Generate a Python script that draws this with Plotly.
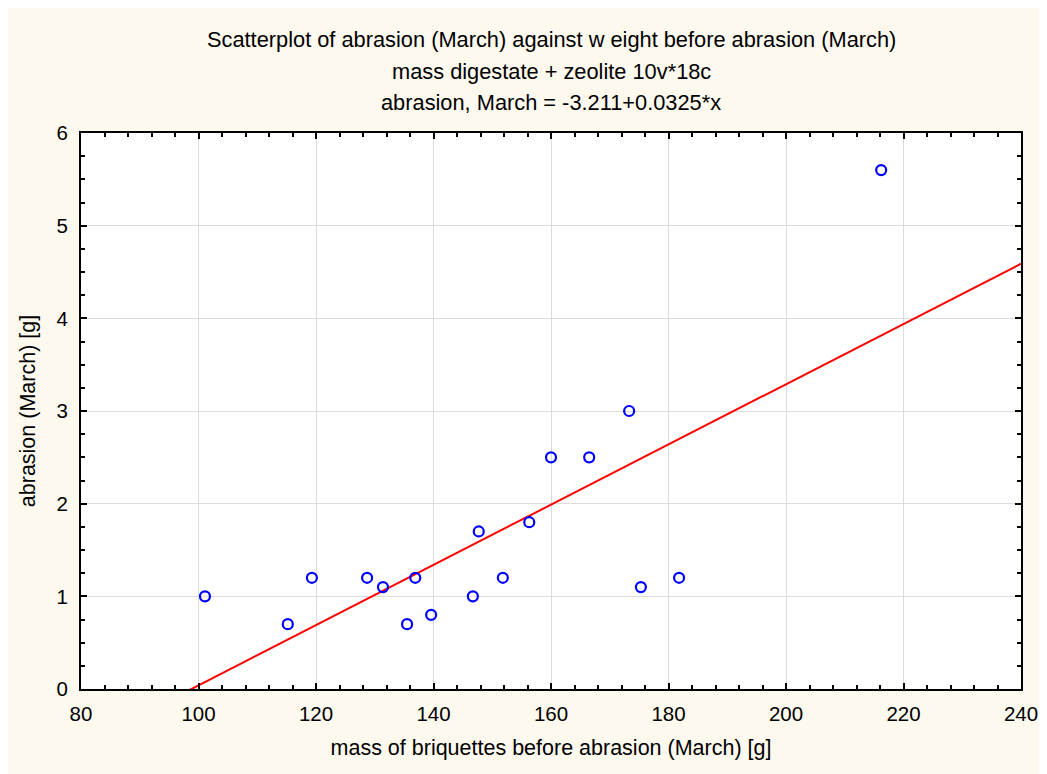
import plotly.graph_objects as go

mass = [101.1, 115.2, 119.3, 128.7, 131.4, 136.9, 135.5, 139.6, 146.7, 147.7,
        151.8, 156.3, 160.0, 166.5, 173.3, 175.3, 181.8, 216.2]
abrasion = [1.0, 0.7, 1.2, 1.2, 1.1, 1.2, 0.7, 0.8, 1.0, 1.7,
            1.2, 1.8, 2.5, 2.5, 3.0, 1.1, 1.2, 5.6]
intercept = -3.211
slope = 0.0325
fit_x = [80, 240]
fit_y = [intercept + slope * v for v in fit_x]

title_lines = [
    "Scatterplot of abrasion (March) against w eight before abrasion (March)",
    "mass digestate + zeolite 10v*18c",
    "abrasion, March = -3.211+0.0325*x",
]
font = "Liberation Sans, Arial, sans-serif"

fig = go.Figure()
fig.add_trace(go.Scatter(x=fit_x, y=fit_y, mode="lines",
                         line=dict(color="#FF0000", width=2),
                         hoverinfo="skip", showlegend=False))
fig.add_trace(go.Scatter(x=mass, y=abrasion, mode="markers",
                         marker=dict(symbol="circle-open", size=10, color="#0000FF",
                                     line=dict(width=2.2, color="#0000FF")),
                         showlegend=False))

axis_common = dict(
    showline=True, linecolor="black", linewidth=2, mirror="ticks",
    ticks="inside", ticklen=6, tickwidth=2, tickcolor="black",
    showgrid=True, gridcolor="#DCDCDC", gridwidth=1, zeroline=False,
    automargin=False,
    tickfont=dict(family=font, size=20.5, color="black"),
)
fig.update_xaxes(range=[80, 240], dtick=20, tick0=80, ticklabelstandoff=5,
                 minor=dict(ticks="inside", ticklen=4, tickwidth=2, tickcolor="black", dtick=4, showgrid=False),
                 title=dict(text="mass of briquettes before abrasion (March) [g]",
                            font=dict(family=font, size=21.5, color="black"), standoff=16),
                 **axis_common)
fig.update_yaxes(range=[0, 6], dtick=1, tick0=0, ticklabelstandoff=7,
                 minor=dict(ticks="inside", ticklen=4, tickwidth=2, tickcolor="black", dtick=0.25, showgrid=False),
                 title=dict(text="abrasion (March) [g]",
                            font=dict(family=font, size=21.5, color="black"), standoff=15),
                 **axis_common)

annotations = []
for i, t in enumerate(title_lines):
    annotations.append(dict(text=t, xref="paper", yref="paper", x=0.5,
                            y=1, yshift=93.5 - i * 31.5, showarrow=False,
                            xanchor="center", yanchor="middle",
                            font=dict(family=font, size=21.8, color="black")))

fig.update_layout(
    width=1047, height=774,
    margin=dict(l=73, r=34, t=125, b=93, autoexpand=False),
    paper_bgcolor="#FDF9EF", plot_bgcolor="white",
    annotations=annotations,
)
fig.write_html("out.html")
